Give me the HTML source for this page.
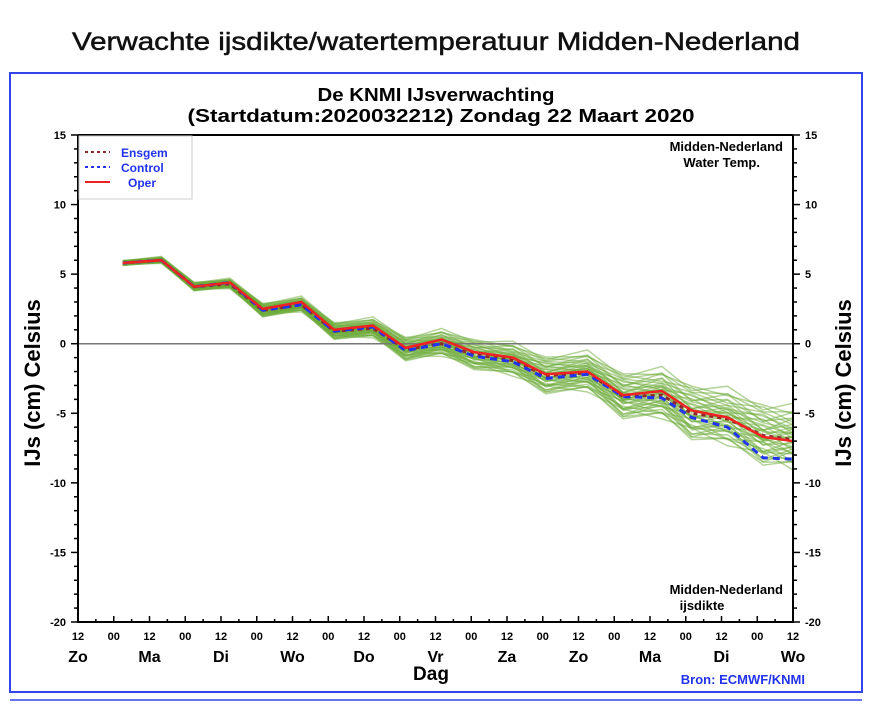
<!DOCTYPE html>
<html><head><meta charset="utf-8"><style>
body{margin:0;background:#fff;width:877px;height:706px;overflow:hidden}
svg text{font-family:"Liberation Sans",sans-serif}
</style></head><body>
<svg id="chart" width="877" height="706" xmlns="http://www.w3.org/2000/svg">
<text x="436" y="50" text-anchor="middle" font-size="25" textLength="728" lengthAdjust="spacingAndGlyphs" fill="#111" stroke="#111" stroke-width="0.5">Verwachte ijsdikte/watertemperatuur Midden-Nederland</text>
<rect x="10" y="73" width="852" height="619" fill="none" stroke="#3344ee" stroke-width="2"/>
<line x1="10" y1="700" x2="862" y2="700" stroke="#3344ee" stroke-width="1.5"/>
<text x="436" y="101" text-anchor="middle" font-size="18" font-weight="bold" textLength="237" lengthAdjust="spacingAndGlyphs">De KNMI IJsverwachting</text>
<text x="441" y="122" text-anchor="middle" font-size="18" font-weight="bold" textLength="507" lengthAdjust="spacingAndGlyphs">(Startdatum:2020032212)  Zondag 22 Maart 2020</text>
<g id="plot"></g>
<text transform="translate(40,383) rotate(-90)" text-anchor="middle" font-size="22" font-weight="bold">IJs (cm)  Celsius</text>
<text transform="translate(851,383) rotate(-90)" text-anchor="middle" font-size="22" font-weight="bold">IJs (cm)  Celsius</text>
<text x="431" y="680" text-anchor="middle" font-size="19" font-weight="bold">Dag</text>
<text x="805" y="684" text-anchor="end" font-size="13" font-weight="bold" fill="#2233ee">Bron: ECMWF/KNMI</text>
<text x="783" y="151" text-anchor="end" font-size="13" font-weight="bold">Midden-Nederland</text>
<text x="760" y="167" text-anchor="end" font-size="13" font-weight="bold">Water Temp.</text>
<text x="783" y="594" text-anchor="end" font-size="13" font-weight="bold">Midden-Nederland</text>
<text x="702" y="610" text-anchor="middle" font-size="13" font-weight="bold">ijsdikte</text>
<g>
<rect x="79" y="136" width="113" height="63" fill="#fff" stroke="#ccc"/>
<line x1="85" y1="152" x2="110" y2="152" stroke="#8b2a2a" stroke-width="2" stroke-dasharray="3,3"/>
<text x="121" y="157" font-size="12" font-weight="bold" fill="#2233ee">Ensgem</text>
<line x1="85" y1="167" x2="110" y2="167" stroke="#2233ee" stroke-width="2" stroke-dasharray="3,3"/>
<text x="121" y="172" font-size="12" font-weight="bold" fill="#2233ee">Control</text>
<line x1="85" y1="182" x2="110" y2="182" stroke="#ee2222" stroke-width="2"/>
<text x="128" y="187" font-size="12" font-weight="bold" fill="#2233ee">Oper</text>
</g>
</svg>
<script>
const hours=[15,28,39,51,62,75,86,99,110,122,133,146,157,171,183,196,206,218,230,240];
const operValues=[5.8,6.0,4.1,4.4,2.5,3.0,1.0,1.3,-0.3,0.3,-0.6,-1.0,-2.2,-2.0,-3.7,-3.4,-4.8,-5.3,-6.7,-7.0];
const controlValues=[5.8,6.0,4.1,4.4,2.4,2.8,0.9,1.2,-0.5,0.0,-0.9,-1.3,-2.5,-2.2,-3.8,-3.9,-5.3,-6.0,-8.2,-8.3];
const ensgemValues=[5.8,6.0,4.1,4.3,2.4,2.8,0.9,1.1,-0.4,0.0,-0.8,-1.2,-2.3,-2.1,-3.8,-3.7,-5.0,-5.4,-6.6,-6.9];
const spreadValues=[0.15,0.2,0.25,0.3,0.4,0.45,0.5,0.6,0.7,0.8,0.9,1.0,1.1,1.2,1.35,1.5,1.6,1.7,1.8,1.9];
const memberOffsets=[-1.0,-0.9,-0.8,-0.75,-0.7,-0.6,-0.55,-0.5,-0.45,-0.4,-0.35,-0.3,-0.25,-0.2,-0.15,-0.1,-0.05,0,0.05,0.1,0.15,0.2,0.25,0.3,0.35,0.4,0.45,0.5,0.6,0.7,0.8,0.9,1.0,1.1,1.2,-0.65,0.55,-0.95,0.75,0.05];
const memberWiggle=[0.3,-0.4,0.2,0.5,-0.3,0.1,-0.5,0.4,0.3,-0.2,0.5,-0.4,0.2,-0.1,0.4,-0.5,0.3,0.2,-0.3,0.5,-0.4,0.1,0.4,-0.2,-0.5,0.3,-0.1,0.5,-0.3,0.2,0.4,-0.4,0.1,-0.2,0.3,0.5,-0.5,0.2,-0.3,0.4];
const yTicks=[15,10,5,0,-5,-10,-15,-20];
const xTickLabels=["12","00","12","00","12","00","12","00","12","00","12","00","12","00","12","00","12","00","12","00","12"];
const dayLabels=["Zo","Ma","Di","Wo","Do","Vr","Za","Zo","Ma","Di","Wo"];
const L=78,R=793,T=135,B=622,ymax=15,ymin=-20,tmax=240;
const X=t=>L+t/tmax*(R-L);
const Y=v=>T+(ymax-v)/(ymax-ymin)*(B-T);
const g=document.getElementById('plot');
const NS='http://www.w3.org/2000/svg';
function mk(tag,at){const e=document.createElementNS(NS,tag);for(const k in at)e.setAttribute(k,at[k]);g.appendChild(e);return e;}
const pts=vals=>vals.map((v,i)=>X(hours[i]).toFixed(1)+','+Y(v).toFixed(1)).join(' ');
memberOffsets.forEach((o,m)=>{
  const w=memberWiggle[m];
  const vals=ensgemValues.map((v,i)=>v+(o+(i%2?w:-w)*0.6)*spreadValues[i]);
  const e=mk('polyline',{points:pts(vals),fill:'none',stroke:'#6aaa35','stroke-opacity':'0.5','stroke-width':'1.5'});
  
  
});
const z=mk('line',{x1:L,x2:R,y1:Y(0),y2:Y(0),stroke:'#777','stroke-width':'1.5'});


const e1=mk('polyline',{points:pts(ensgemValues),fill:'none',stroke:'#8b2a2a','stroke-width':'3','stroke-dasharray':'4,4'});


const c1=mk('polyline',{points:pts(controlValues),fill:'none',stroke:'#2233ee','stroke-width':'3','stroke-dasharray':'7,5'});


const o1=mk('polyline',{points:pts(operValues),fill:'none',stroke:'#ee2222','stroke-width':'2.5'});


const ax=mk('path',{d:`M${L},${T}H${R}M${L},${T}V${B}H${R}V${T}`,fill:'none',stroke:'#000','stroke-width':'2'});


for(let v=ymin;v<=ymax;v++){const major=v%5===0,len=major?7:4;
  mk('line',{x1:L-len,x2:L,y1:Y(v),y2:Y(v),stroke:'#000','stroke-width':'1.5'});
  mk('line',{x1:R,x2:R+len,y1:Y(v),y2:Y(v),stroke:'#000','stroke-width':'1.5'});}
yTicks.forEach(v=>{
  const a=mk('text',{x:L-12,y:Y(v)+4,'text-anchor':'end','font-size':'11','font-weight':'bold'});a.textContent=v;
  
  
  const b=mk('text',{x:R+12,y:Y(v)+4,'font-size':'11','font-weight':'bold'});b.textContent=v;
  
  
});
for(let t=0;t<=tmax;t+=6){const len=t%12===0?6:3;mk('line',{x1:X(t),x2:X(t),y1:B-len,y2:B,stroke:'#000','stroke-width':'1.5'});}
xTickLabels.forEach((s,i)=>{const a=mk('text',{x:X(i*12),y:B+18,'text-anchor':'middle','font-size':'11','font-weight':'bold'});a.textContent=s;
  
  });
dayLabels.forEach((s,i)=>{const a=mk('text',{x:X(i*24),y:B+40,'text-anchor':'middle','font-size':'16','font-weight':'bold'});a.textContent=s;
  
  });
</script>
</body></html>
